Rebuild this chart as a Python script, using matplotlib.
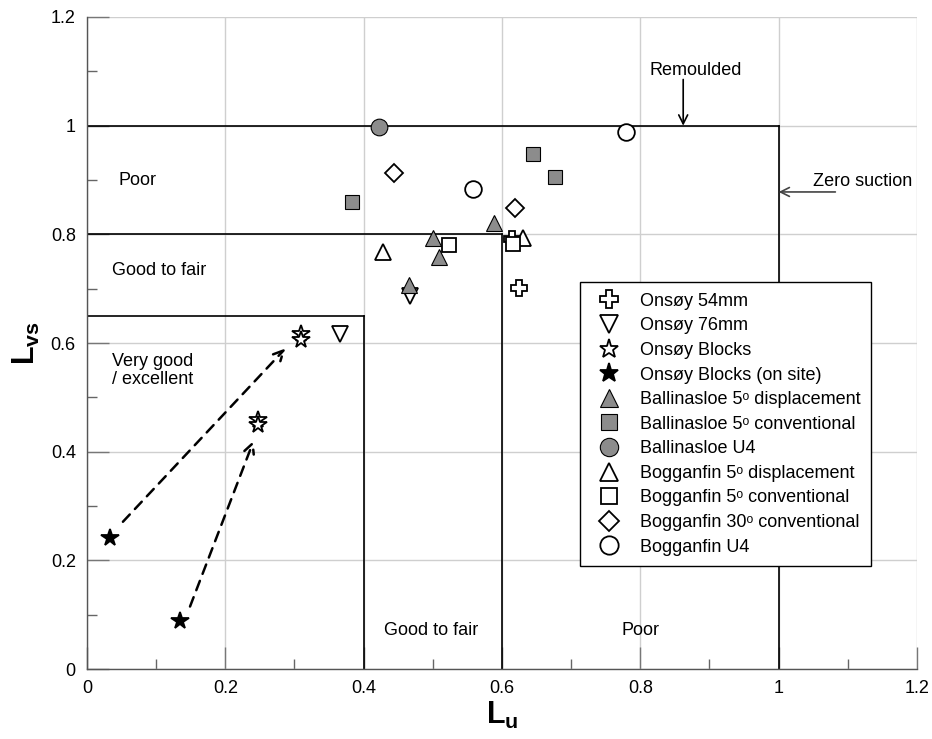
import matplotlib
matplotlib.use("Agg")
import matplotlib.pyplot as plt
from matplotlib.ticker import MultipleLocator

plt.rcParams['font.family'] = ['Liberation Sans', 'DejaVu Sans']
plt.rcParams['mathtext.fontset'] = 'custom'
plt.rcParams['mathtext.rm'] = 'Liberation Sans'
plt.rcParams['mathtext.bf'] = 'Liberation Sans:bold'

# ---- data (Lu, Lvs) ----
onsoy54_x = [0.614, 0.624]
onsoy54_y = [0.792, 0.702]
onsoy76_x = [0.366, 0.467]
onsoy76_y = [0.617, 0.686]
blocks_x = [0.310, 0.310, 0.248, 0.248]
blocks_y = [0.617, 0.605, 0.459, 0.449]
blocks_site_x = [0.033, 0.135]
blocks_site_y = [0.241, 0.088]
ball_disp_x = [0.588, 0.500, 0.509, 0.466]
ball_disp_y = [0.821, 0.793, 0.759, 0.706]
ball_conv_x = [0.645, 0.676, 0.383]
ball_conv_y = [0.948, 0.906, 0.859]
ball_u4_x = [0.422]
ball_u4_y = [0.997]
bog_disp_x = [0.428, 0.630]
bog_disp_y = [0.767, 0.793]
bog_conv_x = [0.524, 0.616]
bog_conv_y = [0.781, 0.782]
bog_30_x = [0.444, 0.619]
bog_30_y = [0.912, 0.848]
bog_u4_x = [0.780, 0.558]
bog_u4_y = [0.988, 0.883]

# arrows: (start_x, start_y, end_x, end_y)
arrow1 = [0.052, 0.271, 0.287, 0.590]
arrow2 = [0.149, 0.115, 0.241, 0.420]

gray = '#8c8c8c'
deg = '\u1d52'

fig = plt.figure(figsize=(9.32, 7.39), dpi=100)
ax = fig.add_axes([0.0933, 0.0947, 0.8906, 0.8823])

ax.set_xlim(0, 1.2)
ax.set_ylim(0, 1.2)
ax.xaxis.set_minor_locator(MultipleLocator(0.1))
ax.yaxis.set_minor_locator(MultipleLocator(0.1))
ax.set_xticks([0, 0.2, 0.4, 0.6, 0.8, 1.0, 1.2])
ax.set_xticklabels(['0', '0.2', '0.4', '0.6', '0.8', '1', '1.2'])
ax.set_yticks([0, 0.2, 0.4, 0.6, 0.8, 1.0, 1.2])
ax.set_yticklabels(['0', '0.2', '0.4', '0.6', '0.8', '1', '1.2'])
ax.grid(True, which='major', color='#cfcfcf', linewidth=1.0, zorder=0)
ax.set_axisbelow(True)
for s in ['top', 'right']:
    ax.spines[s].set_visible(False)
for s in ['left', 'bottom']:
    ax.spines[s].set_color('#555555')
    ax.spines[s].set_linewidth(1.0)
ax.tick_params(which='major', direction='in', length=16, width=1, color='#777777',
               labelsize=13, pad=8)
ax.tick_params(which='minor', direction='in', length=7.5, width=1, color='#666666')

# region boundaries
lc = 'black'
lw = 1.2
ax.plot([0, 1.0], [1.0, 1.0], color=lc, lw=lw, zorder=2)
ax.plot([1.0, 1.0], [0, 1.0], color=lc, lw=lw, zorder=2)
ax.plot([0, 0.6], [0.8, 0.8], color=lc, lw=lw, zorder=2)
ax.plot([0.6, 0.6], [0, 0.8], color=lc, lw=lw, zorder=2)
ax.plot([0, 0.4], [0.65, 0.65], color=lc, lw=lw, zorder=2)
ax.plot([0.4, 0.4], [0, 0.65], color=lc, lw=lw, zorder=2)

# region labels
fs = 13
ax.text(0.046, 0.9, 'Poor', fontsize=fs, va='center', ha='left')
ax.text(0.036, 0.733, 'Good to fair', fontsize=fs, va='center', ha='left')
ax.text(0.036, 0.55, 'Very good\n/ excellent', fontsize=fs, va='center', ha='left',
        linespacing=1.1)
ax.text(0.498, 0.07, 'Good to fair', fontsize=fs, va='center', ha='center')
ax.text(0.80, 0.07, 'Poor', fontsize=fs, va='center', ha='center')

# annotations
ax.text(0.88, 1.102, 'Remoulded', fontsize=fs, ha='center', va='center')
ax.annotate('', xy=(0.862, 1.0), xytext=(0.862, 1.085),
            arrowprops=dict(arrowstyle='->', color='black', lw=1.2,
                            shrinkA=0, shrinkB=0, mutation_scale=16))
ax.annotate('', xy=(1.0, 0.878), xytext=(1.082, 0.878),
            arrowprops=dict(arrowstyle='->', color='#444444', lw=1.2,
                            shrinkA=0, shrinkB=0, mutation_scale=16))
ax.text(1.193, 0.897, 'Zero suction', fontsize=fs, ha='right', va='center')

# dashed arrows
for a in (arrow1, arrow2):
    ax.annotate('', xy=(a[2], a[3]), xytext=(a[0], a[1]),
                arrowprops=dict(arrowstyle='->', linestyle=(0, (4, 3)), color='black',
                                lw=1.8, shrinkA=0, shrinkB=0, mutation_scale=18),
                zorder=3)

mk = dict(linestyle='none', markeredgecolor='black', markeredgewidth=1.3, zorder=4)
mkg = dict(linestyle='none', markeredgecolor='black', markeredgewidth=0.8, zorder=4)
ax.plot(onsoy54_x, onsoy54_y, marker='P', markersize=12, markerfacecolor='white',
        label='Onsøy 54mm', **mk)
ax.plot(onsoy76_x, onsoy76_y, marker='v', markersize=12, markerfacecolor='white',
        label='Onsøy 76mm', **mk)
ax.plot(blocks_x, blocks_y, marker='*', markersize=13, markerfacecolor='white',
        label='Onsøy Blocks', **mk)
ax.plot(blocks_site_x, blocks_site_y, marker='*', markersize=13, markerfacecolor='black',
        label='Onsøy Blocks (on site)', **mk)
ax.plot(ball_disp_x, ball_disp_y, marker='^', markersize=12, markerfacecolor=gray,
        label=f'Ballinasloe 5{deg} displacement', **mkg)
ax.plot(ball_conv_x, ball_conv_y, marker='s', markersize=10.5, markerfacecolor=gray,
        label=f'Ballinasloe 5{deg} conventional', **mkg)
ax.plot(ball_u4_x, ball_u4_y, marker='o', markersize=12, markerfacecolor=gray,
        label='Ballinasloe U4', **mkg)
ax.plot(bog_disp_x, bog_disp_y, marker='^', markersize=12, markerfacecolor='white',
        label=f'Bogganfin 5{deg} displacement', **mk)
ax.plot(bog_conv_x, bog_conv_y, marker='s', markersize=10.5, markerfacecolor='white',
        label=f'Bogganfin 5{deg} conventional', **mk)
ax.plot(bog_30_x, bog_30_y, marker='D', markersize=9, markerfacecolor='white',
        label=f'Bogganfin 30{deg} conventional', **mk)
ax.plot(bog_u4_x, bog_u4_y, marker='o', markersize=12, markerfacecolor='white',
        label='Bogganfin U4', **mk)

leg = ax.legend(loc='upper left', bbox_to_anchor=(0.594, 0.5936), fontsize=13,
                frameon=True, fancybox=False, edgecolor='black', framealpha=1,
                labelspacing=0.42, handletextpad=0.7, borderpad=0.6,
                handlelength=2.0, borderaxespad=0, markerscale=1.1)
leg.get_frame().set_linewidth(1.0)
leg.set_zorder(5)

ax.set_xlabel(r'$\mathbf{L}_{\mathbf{u}}$', fontsize=22, labelpad=2)
ax.set_ylabel(r'$\mathbf{L}_{\mathbf{vs}}$', fontsize=22, labelpad=6)

fig.savefig('out.png', dpi=100)
